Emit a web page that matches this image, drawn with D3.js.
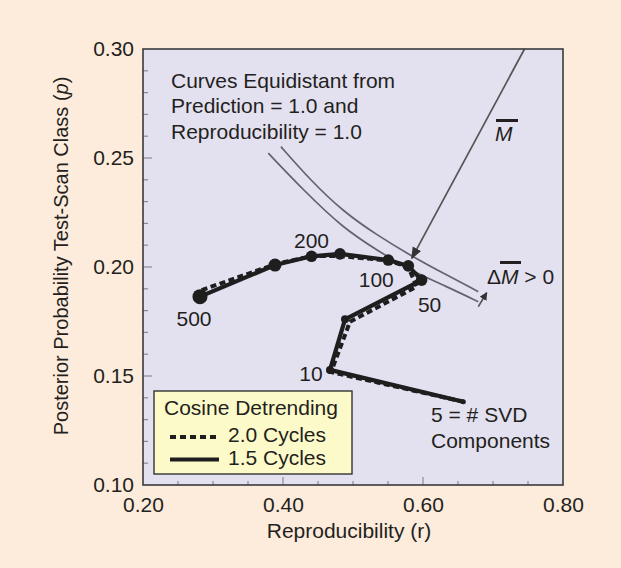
<!DOCTYPE html>
<html><head><meta charset="utf-8">
<script src="https://cdn.jsdelivr.net/npm/d3@7"></script>
<style>
html,body{margin:0;padding:0;background:#fdebdb;}
svg{display:block;font-family:"Liberation Sans",Arial,Helvetica,sans-serif;}
</style></head>
<body><svg id="c" width="621" height="568"></svg>
<script>
// ---- data ----
const solidR = [0.2814, 0.3886, 0.4407, 0.4814, 0.5504, 0.5790, 0.5980, 0.4886, 0.4671, 0.6576];
const solidP = [0.1864, 0.2009, 0.2049, 0.2060, 0.2032, 0.2005, 0.1940, 0.1760, 0.1528, 0.1382];
const dashR  = [0.2838, 0.3900, 0.4407, 0.4814, 0.5504, 0.5790, 0.5910, 0.4957, 0.4686, 0.6576];
const dashP  = [0.1894, 0.2014, 0.2050, 0.2050, 0.2030, 0.2000, 0.1910, 0.1749, 0.1518, 0.1382];
const pointLabels = ["500", "", "200", "", "", "100", "50", "", "10", ""];
const curveAR = [0.379, 0.429, 0.486, 0.534, 0.581, 0.634, 0.679];
const curveAP = [0.2522, 0.2353, 0.2178, 0.2078, 0.1986, 0.1910, 0.1841];
const curveBR = [0.397, 0.439, 0.486, 0.534, 0.581, 0.629, 0.679];
const curveBP = [0.2552, 0.2399, 0.2254, 0.2147, 0.2055, 0.1971, 0.1887];
const arrowMR = [0.745, 0.584];
const arrowMP = [0.300, 0.204];
const arrowDR = [0.679, 0.691];
const arrowDP = [0.1818, 0.1882];
const xTicks = [0.20, 0.40, 0.60, 0.80];
const yTicks = [0.10, 0.15, 0.20, 0.25, 0.30];
const legendItems = ["2.0 Cycles", "1.5 Cycles"];

// ---- chart ----
const svg = d3.select("#c");
const ink = "#231f20";
const FS = 21;
svg.append("rect").attr("width",621).attr("height",568).attr("fill","#fdebdb");
const x = d3.scaleLinear().domain([0.2,0.8]).range([143,563]);
const y = d3.scaleLinear().domain([0.1,0.3]).range([485,49]);

svg.append("rect").attr("x",143).attr("y",49).attr("width",420).attr("height",436)
  .attr("fill","#e3e1f0");

// minor/major ticks (inside)
const xMinor = d3.range(0.25,0.8,0.05);
svg.append("g").selectAll("line").data(xMinor).join("line")
  .attr("x1",d=>x(d)).attr("x2",d=>x(d)).attr("y1",485)
  .attr("y2",d=>Math.abs(d*5-Math.round(d*5))<1e-6?477:481)
  .attr("stroke","#8a8a96").attr("stroke-width",1.2);
const yMinor = d3.range(0.11,0.30,0.01);
svg.append("g").selectAll("line").data(yMinor).join("line")
  .attr("y1",d=>y(d)).attr("y2",d=>y(d)).attr("x1",143)
  .attr("x2",d=>Math.abs(d*20-Math.round(d*20))<1e-6?152:148)
  .attr("stroke","#8a8a96").attr("stroke-width",1.2);

// axes labels
const xa = d3.axisBottom(x).tickValues(xTicks).tickFormat(d3.format(".2f")).tickSize(0).tickPadding(12);
const gx = svg.append("g").attr("transform","translate(0,485)").call(xa);
gx.select(".domain").remove();
gx.selectAll("text").attr("font-size",FS).attr("fill",ink).attr("font-family","Liberation Sans, Arial");
const ya = d3.axisLeft(y).tickValues(yTicks).tickFormat(d3.format(".2f")).tickSize(0).tickPadding(9);
const gy = svg.append("g").attr("transform","translate(143,0)").call(ya);
gy.select(".domain").remove();
gy.selectAll("text").attr("font-size",FS).attr("fill",ink).attr("font-family","Liberation Sans, Arial");

svg.append("text").attr("x",349).attr("y",538).attr("text-anchor","middle")
  .attr("font-size",FS).attr("fill",ink).text("Reproducibility (r)");
const yt = svg.append("text").attr("transform","translate(68,256) rotate(-90)")
  .attr("text-anchor","middle").attr("font-size",20).attr("fill",ink);
yt.append("tspan").text("Posterior Probability Test-Scan Class (");
yt.append("tspan").attr("font-style","italic").text("p");
yt.append("tspan").text(")");

// equidistant curves
const line = d3.line().curve(d3.curveBasis);
[[curveAR,curveAP],[curveBR,curveBP]].forEach(([R,P])=>{
  svg.append("path").attr("d",line(R.map((r,i)=>[x(r),y(P[i])])))
    .attr("fill","none").attr("stroke","#626270").attr("stroke-width",1.7);
});

// arrows
const defs = svg.append("defs");
defs.append("marker").attr("id","ah").attr("viewBox","0 0 10 10").attr("refX",9).attr("refY",5)
  .attr("markerWidth",8).attr("markerHeight",8).attr("orient","auto").attr("markerUnits","userSpaceOnUse")
  .append("path").attr("d","M0,0L10,5L0,10z").attr("fill","#333");
defs.append("marker").attr("id","ah2").attr("viewBox","0 0 10 10").attr("refX",9).attr("refY",5)
  .attr("markerWidth",12).attr("markerHeight",12).attr("orient","auto").attr("markerUnits","userSpaceOnUse")
  .append("path").attr("d","M0,1L10,5L0,9z").attr("fill","#333");
svg.append("line").attr("x1",x(arrowMR[0])).attr("y1",y(arrowMP[0])).attr("x2",x(arrowMR[1])).attr("y2",y(arrowMP[1]))
  .attr("stroke","#555").attr("stroke-width",1.7).attr("marker-end","url(#ah2)");
svg.append("line").attr("x1",x(arrowDR[0])).attr("y1",y(arrowDP[0])).attr("x2",x(arrowDR[1])).attr("y2",y(arrowDP[1]))
  .attr("stroke","#555").attr("stroke-width",1.7).attr("marker-end","url(#ah)");

// series
const sl = d3.line();
svg.append("path").attr("d",sl(solidR.map((r,i)=>[x(r),y(solidP[i])])))
  .attr("fill","none").attr("stroke","#1e1e1e").attr("stroke-width",4.2).attr("stroke-linejoin","round");
svg.append("path").attr("d",sl(dashR.map((r,i)=>[x(r),y(dashP[i])])))
  .attr("fill","none").attr("stroke","#1e1e1e").attr("stroke-width",4).attr("stroke-dasharray","6,3.5");
svg.append("g").selectAll("circle").data(solidR).join("circle")
  .attr("cx",d=>x(d)).attr("cy",(d,i)=>y(solidP[i]))
  .attr("r",(d,i)=>i===0?7.5:(i===1?6.5:(i===solidR.length-1?2.5:(i===7||i===8?4:5.8))))
  .attr("fill","#1e1e1e");

// point labels
const offs = [[-6,22],[0,0],[0,-16],[0,0],[0,0],[-32,14],[8,24],[0,0],[-19,4],[0,0]];
svg.append("g").selectAll("text").data(pointLabels).join("text")
  .attr("x",(d,i)=>x(solidR[i])+offs[i][0]).attr("y",(d,i)=>y(solidP[i])+offs[i][1]+7.5)
  .attr("text-anchor","middle").attr("font-size",FS).attr("fill",ink).text(d=>d);

// annotations
const ann = svg.append("g").attr("font-size",FS).attr("fill",ink);
["Curves Equidistant from","Prediction = 1.0 and","Reproducibility = 1.0"].forEach((t,i)=>{
  ann.append("text").attr("x",171).attr("y",87.5+i*25.7).text(t);
});
ann.append("text").attr("x",431).attr("y",421.5).text("5 = # SVD");
ann.append("text").attr("x",431).attr("y",447.5).text("Components");
ann.append("text").attr("x",495).attr("y",141).attr("font-style","italic").text("M");
ann.append("rect").attr("x",496).attr("y",119).attr("width",22).attr("height",3).attr("fill",ink);
const dm = ann.append("text").attr("x",487).attr("y",283.5);
dm.append("tspan").text("\u0394");
dm.append("tspan").attr("font-style","italic").text("M");
dm.append("tspan").text(" > 0");
ann.append("rect").attr("x",500).attr("y",261).attr("width",21).attr("height",3).attr("fill",ink);

// plot border
svg.append("rect").attr("x",143).attr("y",49).attr("width",420).attr("height",436)
  .attr("fill","none").attr("stroke","#3a3a3a").attr("stroke-width",1.6);

// legend
const lg = svg.append("g");
lg.append("rect").attr("x",154).attr("y",391).attr("width",198).attr("height",83)
  .attr("fill","#fdfac9").attr("stroke","#333").attr("stroke-width",1.4);
lg.append("text").attr("x",164).attr("y",414.5).attr("font-size",FS).attr("fill",ink).text("Cosine Detrending");
legendItems.forEach((t,i)=>{
  const yy = 437 + i*22.5;
  lg.append("line").attr("x1",170).attr("x2",219).attr("y1",yy).attr("y2",yy)
    .attr("stroke","#1e1e1e").attr("stroke-width",3.8)
    .attr("stroke-dasharray",i===0?"6,4":null);
  lg.append("text").attr("x",228).attr("y",yy+5).attr("font-size",FS).attr("fill",ink).text(t);
});
</script></body></html>
